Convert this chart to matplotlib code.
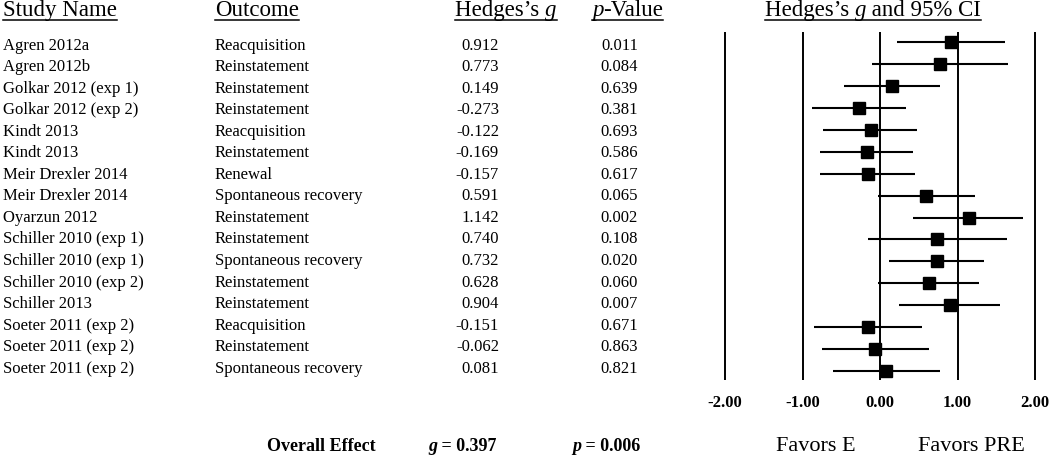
import matplotlib
matplotlib.use("Agg")
import matplotlib.pyplot as plt
from matplotlib.lines import Line2D

plt.rcParams['font.family'] = 'Liberation Serif'

# data
studies = ['Agren 2012a', 'Agren 2012b', 'Golkar 2012 (exp 1)', 'Golkar 2012 (exp 2)',
           'Kindt 2013', 'Kindt 2013', 'Meir Drexler 2014', 'Meir Drexler 2014',
           'Oyarzun 2012', 'Schiller 2010 (exp 1)', 'Schiller 2010 (exp 1)',
           'Schiller 2010 (exp 2)', 'Schiller 2013', 'Soeter 2011 (exp 2)',
           'Soeter 2011 (exp 2)', 'Soeter 2011 (exp 2)']
outcomes = ['Reacquisition', 'Reinstatement', 'Reinstatement', 'Reinstatement',
            'Reacquisition', 'Reinstatement', 'Renewal', 'Spontaneous recovery',
            'Reinstatement', 'Reinstatement', 'Spontaneous recovery', 'Reinstatement',
            'Reinstatement', 'Reacquisition', 'Reinstatement', 'Spontaneous recovery']
g = [0.912, 0.773, 0.149, -0.273, -0.122, -0.169, -0.157, 0.591,
     1.142, 0.740, 0.732, 0.628, 0.904, -0.151, -0.062, 0.081]
pvals = [0.011, 0.084, 0.639, 0.381, 0.693, 0.586, 0.617, 0.065,
         0.002, 0.108, 0.020, 0.060, 0.007, 0.671, 0.863, 0.821]
ci_lo = [0.22, -0.10, -0.47, -0.88, -0.73, -0.78, -0.78, -0.03,
         0.43, -0.16, 0.12, -0.02, 0.25, -0.85, -0.75, -0.61]
ci_hi = [1.61, 1.65, 0.77, 0.33, 0.48, 0.43, 0.45, 1.22,
         1.84, 1.64, 1.34, 1.28, 1.55, 0.54, 0.63, 0.77]
ticks = [-2, -1, 0, 1, 2]
overall_g = 0.397
overall_p = 0.006

W, H = 1050, 456
ROW0, ROWSTEP = 43.3, 21.9      # forest rows, pixels from top
fig = plt.figure(figsize=(W / 100, H / 100), dpi=100)
ax = fig.add_axes([0, 0, 1, 1])
ax.axis('off')
# x in g units (0 at px 880, 77.5 px per unit), y in row units
ax.set_xlim(-880 / 77.5, (W - 880) / 77.5)
ax.set_ylim((H - ROW0) / ROWSTEP, -ROW0 / ROWSTEP)

n = len(studies)
rows = list(range(n))
tr = ax.get_yaxis_transform()   # x: fraction of width, y: rows


def px(x):
    return x / W


def row_of(ypx):
    return (ypx - ROW0) / ROWSTEP


# forest plot
ax.vlines(ticks, row_of(32.7), row_of(380.7), color='black', lw=1.4)
ax.hlines(rows, ci_lo, ci_hi, color='black', lw=1.5)
ax.plot(g, rows, 's', color='black', ms=8.7, ls='none')
for t in ticks:
    ax.text(t, row_of(407), f'{t:.2f}', ha='center', va='baseline',
            fontsize=12, fontweight='bold')

# table columns (text baselines sit on a slightly tighter grid)
for i in rows:
    ty = row_of(49.5 + 21.55 * i)
    ax.text(px(3), ty, studies[i], transform=tr, va='baseline', fontsize=12)
    ax.text(px(215), ty, outcomes[i], transform=tr, va='baseline', fontsize=12)
    ax.text(px(499), ty, f'{g[i]:.3f}', transform=tr, va='baseline', ha='right', fontsize=12)
    ax.text(px(638), ty, f'{pvals[i]:.3f}', transform=tr, va='baseline', ha='right', fontsize=12)


def chain(x, y, pieces, size, weight='normal'):
    """draw text pieces one after another, pieces = [(text, style)]"""
    out = []
    prev = None
    for s, style in pieces:
        if prev is None:
            t = ax.text(px(x), y, s, transform=tr, fontsize=size, fontweight=weight,
                        fontstyle=style, va='baseline', ha='left')
        else:
            t = ax.annotate(s, xy=(1, 0), xycoords=prev, va='bottom', ha='left',
                            fontsize=size, fontweight=weight, fontstyle=style)
        out.append(t)
        prev = t
    return out


hy = row_of(16)
hs = 16.5
headers = [
    chain(3, hy, [('Study Name', 'normal')], hs),
    chain(215, hy, [('Outcome', 'normal')], hs),
    chain(455, hy, [('Hedges\u2019s ', 'normal'), ('g', 'italic')], hs),
    chain(592, hy, [('p', 'italic'), ('-Value', 'normal')], hs),
    chain(765, hy, [('Hedges\u2019s ', 'normal'), ('g', 'italic'), (' and 95% CI', 'normal')], hs),
]

oy = row_of(451)
chain(267, oy, [('Overall Effect', 'normal')], 13, 'bold')
chain(428, oy, [('g', 'italic'), (f' = {overall_g:.3f}', 'normal')], 13, 'bold')
chain(572, oy, [('p', 'italic'), (f' = {overall_p:.3f}', 'normal')], 13, 'bold')

ax.text(-0.83, oy, 'Favors E', ha='center', va='baseline', fontsize=16)
ax.text(1.18, oy, 'Favors PRE', ha='center', va='baseline', fontsize=16)

# underline the headers
fig.canvas.draw()
r = fig.canvas.get_renderer()
for parts in headers:
    x0 = min(p.get_window_extent(r).x0 for p in parts)
    x1 = max(p.get_window_extent(r).x1 for p in parts)
    fig.add_artist(Line2D([x0 / W, x1 / W], [(H - 21) / H, (H - 21) / H],
                          color='black', lw=1.1))

fig.savefig('out.png', dpi=100)
